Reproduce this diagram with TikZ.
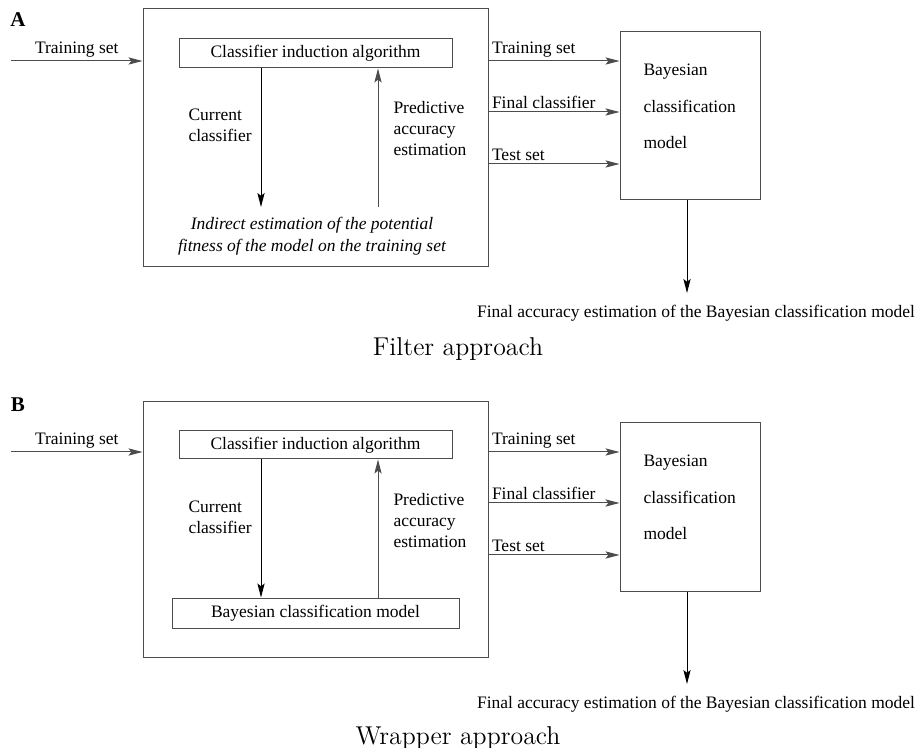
\documentclass[tikz,border=0pt]{standalone}
\usepackage{fontspec}
\newfontfamily\timesfont{Liberation Serif}
\usetikzlibrary{arrows.meta}
\usetikzlibrary{positioning}

\begin{document}
\begin{tikzpicture}[x=0.5pt,y=-0.5pt,line width=0.5pt,
    >={Stealth[length=7pt,width=3.6pt,inset=1.4pt]},
    every node/.style={font=\timesfont\fontsize{8.75}{10.5}\selectfont},
    box/.style={draw=black!70,rectangle,inner sep=0pt},
    flow/.style={draw=black!70},
    tag/.style={font=\timesfont\bfseries\fontsize{10.5}{12}\selectfont},
    title/.style={font=\fontsize{12.9}{15}\selectfont},
    txt/.style={align=left,anchor=west,inner sep=0pt},
    modeltxt/.style={txt,font=\timesfont\fontsize{8.75}{18.25}\selectfont}]

  \useasboundingbox (0,0) rectangle (916,748);

  % A: filter approach
  \node[tag] (tagA) at (18,20) {A};
  \node[box,minimum width=172.5pt,minimum height=129pt] (outerA) at (315.5,138) {};
  \node[box,minimum width=136.5pt,minimum height=14.5pt] (induceA) at (315.5,53.5) {Classifier induction algorithm};
  \node[box,minimum width=70pt,minimum height=84pt] (bayesA) at (690,116) {};
  \node[modeltxt] (bayesAtxt) at (643,106.5) {Bayesian\\classification\\model};
  \node[txt] (curA) at (188,125.5) {Current\\classifier};
  \node[txt] (predA) at (393,129) {Predictive\\accuracy\\estimation};
  \node[align=center,font=\timesfont\itshape\fontsize{8.75}{11}\selectfont] (fitA) at (312,236)
    {Indirect estimation of the potential\\fitness of the model on the training set};

  \coordinate (srcA) at (11,61);
  \coordinate (cdA) at (261,207);
  \coordinate (paA) at (378,207);
  \coordinate (accA) at (687,293);

  \draw[flow,->] (srcA) -- node[above,inner sep=1.5pt] {Training set} (srcA -| outerA.west);
  \draw[->] (cdA |- induceA.south) -- (cdA);
  \draw[flow,->] (paA) -- (paA |- induceA.south);
  \foreach \yy/\lbl in {61/Training set,112/Final classifier,164/Test set}
    \draw[flow,->] (outerA.east |- 0,\yy) -- node[pos=0,above right,inner sep=1.5pt] {\lbl} (bayesA.west |- 0,\yy);
  \draw[->] (accA |- bayesA.south) -- (accA);

  \node (finA) at (696,313) {Final accuracy estimation of the Bayesian classification model};
  \node[title] (titA) at (458,349) {Filter approach};

  % B: wrapper approach
  \node[tag] (tagB) at (18,405) {B};
  \node[box,minimum width=172.5pt,minimum height=127.5pt] (outerB) at (315.5,529.5) {};
  \node[box,minimum width=136.5pt,minimum height=14pt] (induceB) at (315.5,445) {Classifier induction algorithm};
  \node[box,minimum width=143.5pt,minimum height=15pt] (modelB) at (315.5,613) {Bayesian classification model};
  \node[box,minimum width=70pt,minimum height=84pt] (bayesB) at (690,507) {};
  \node[modeltxt] (bayesBtxt) at (643,497.5) {Bayesian\\classification\\model};
  \node[txt] (curB) at (188,517) {Current\\classifier};
  \node[txt] (predB) at (393,520.5) {Predictive\\accuracy\\estimation};

  \coordinate (srcB) at (11,452);
  \coordinate (cdB) at (261,598);
  \coordinate (paB) at (378,598);
  \coordinate (accB) at (687,684);

  \draw[flow,->] (srcB) -- node[above,inner sep=1.5pt] {Training set} (srcB -| outerB.west);
  \draw[->] (cdB |- induceB.south) -- (cdB |- modelB.north);
  \draw[flow,->] (paB |- modelB.north) -- (paB |- induceB.south);
  \foreach \yy/\lbl in {452/Training set,503/Final classifier,555/Test set}
    \draw[flow,->] (outerB.east |- 0,\yy) -- node[pos=0,above right,inner sep=1.5pt] {\lbl} (bayesB.west |- 0,\yy);
  \draw[->] (accB |- bayesB.south) -- (accB);

  \node (finB) at (696,704) {Final accuracy estimation of the Bayesian classification model};
  \node[title] (titB) at (458,738) {Wrapper approach};
\end{tikzpicture}
\end{document}
